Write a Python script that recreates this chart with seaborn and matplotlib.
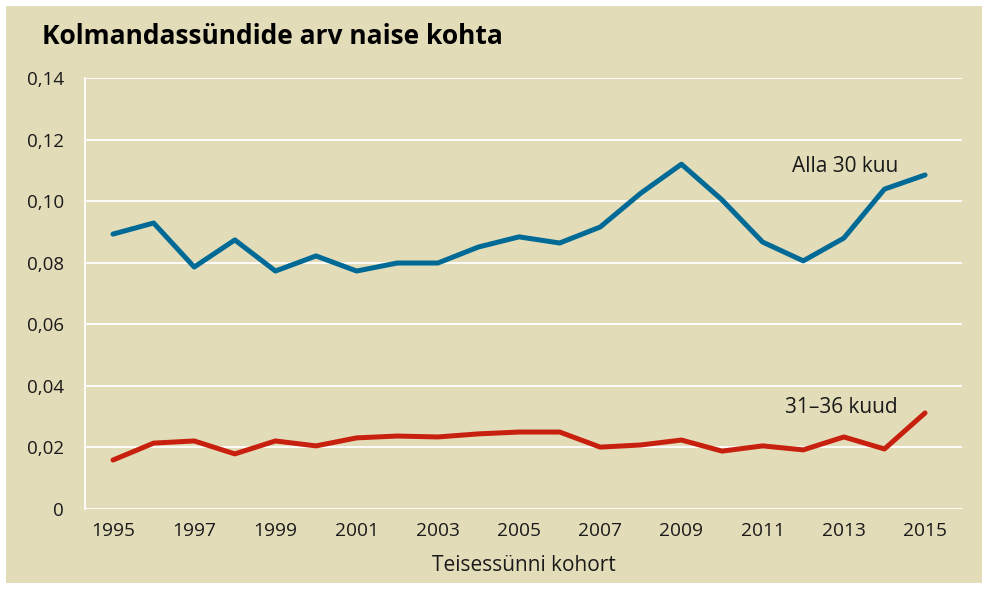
import pandas as pd
import seaborn as sns
import matplotlib.pyplot as plt
from matplotlib.patches import Rectangle
from matplotlib.ticker import FuncFormatter

years = list(range(1995, 2016))
alla_30 = [0.0893, 0.0929, 0.0786, 0.0874, 0.0773, 0.0822, 0.0773, 0.0799, 0.0799,
           0.0851, 0.0884, 0.0864, 0.0916, 0.1026, 0.1120, 0.1004, 0.0867, 0.0806,
           0.0880, 0.1039, 0.1085]
kuud_31_36 = [0.0159, 0.0214, 0.0221, 0.0179, 0.0221, 0.0205, 0.0231, 0.0237, 0.0234,
              0.0244, 0.0250, 0.0250, 0.0201, 0.0208, 0.0224, 0.0188, 0.0205, 0.0192,
              0.0234, 0.0195, 0.0312]
series_names = ["Alla 30 kuu", "31–36 kuud"]
y_ticks = [0, 0.02, 0.04, 0.06, 0.08, 0.10, 0.12, 0.14]
x_ticks = list(range(1995, 2016, 2))

bg = "#E3DCB9"
colors = {"Alla 30 kuu": "#006A96", "31–36 kuud": "#C8200E"}

df = pd.concat([
    pd.DataFrame({"aasta": years, "arv": alla_30, "rühm": series_names[0]}),
    pd.DataFrame({"aasta": years, "arv": kuud_31_36, "rühm": series_names[1]}),
])

sns.set_style("white")
plt.rcParams["font.family"] = ["Open Sans", "DejaVu Sans"]

fig = plt.figure(figsize=(9.88, 5.89), dpi=100, facecolor="white")
# beige card with a thin white margin
fig.patches.append(Rectangle((6 / 988, 6 / 589), 976 / 988, 577 / 589,
                             transform=fig.transFigure, facecolor=bg,
                             edgecolor="none", zorder=-10))
ax = fig.add_axes([85 / 988, 1 - 509 / 589, 877 / 988, 431 / 589])
ax.set_facecolor(bg)

sns.lineplot(data=df, x="aasta", y="arv", hue="rühm", palette=colors,
             linewidth=3.6, legend=False, ax=ax, zorder=3)

ax.set_xlim(1994.31, 2015.91)
ax.set_ylim(0, 0.14)
ax.set_yticks(y_ticks)
ax.set_xticks(x_ticks)
ax.yaxis.set_major_formatter(FuncFormatter(lambda v, p: "0" if v == 0 else f"{v:.2f}".replace(".", ",")))
ax.grid(axis="y", color="white", linewidth=1.3)
ax.grid(axis="x", visible=False)
for s in ["top", "right", "bottom"]:
    ax.spines[s].set_visible(False)
ax.spines["left"].set_color("white")
ax.spines["left"].set_linewidth(1.3)
ax.tick_params(axis="y", length=8, width=1.3, color="white", labelsize=13.5,
               labelcolor="#1a1a1a", pad=7)
ax.tick_params(axis="x", length=0, labelsize=13.8, labelcolor="#1a1a1a", pad=9)
ax.set_xlabel("Teisessünni kohort", fontsize=15, color="#1a1a1a", labelpad=11)
ax.set_ylabel("")

ax.text(2014.33, 0.1095, "Alla 30 kuu", fontsize=15, color="#1a1a1a", ha="right", va="baseline")
ax.text(2014.33, 0.0312, "31–36 kuud", fontsize=15, color="#1a1a1a", ha="right", va="baseline")

fig.text(42 / 988, 1 - 36 / 589, "Kolmandassündide arv naise kohta", fontsize=19,
         fontweight="bold", color="black", ha="left", va="center")

fig.savefig("out.png", dpi=100, facecolor="white")
